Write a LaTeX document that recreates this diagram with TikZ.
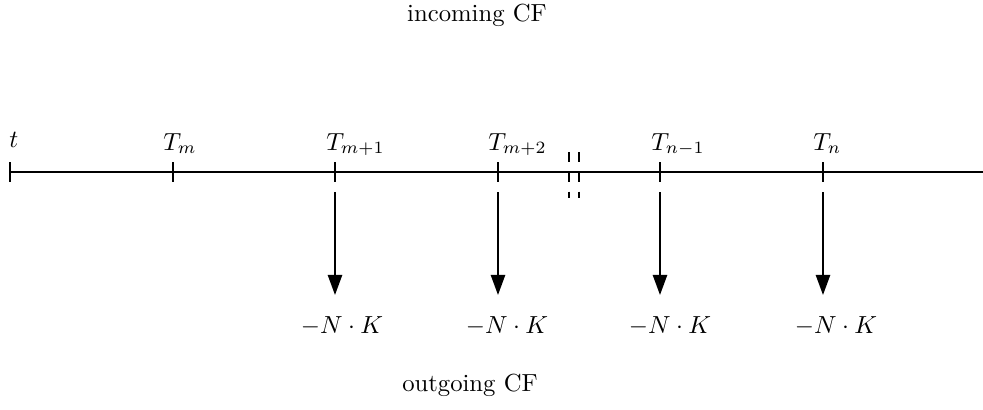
\documentclass[tikz,border=0pt]{standalone}
\usetikzlibrary{arrows.meta}
\begin{document}
\begin{tikzpicture}[x=0.405pt,y=-0.405pt,
  axis/.style={line width=0.8pt},
  tickmark/.style={line width=0.8pt},
  cfarrow/.style={line width=0.8pt,-{Triangle[length=8.2pt,width=5.8pt]}},
  brk/.style={line width=0.6pt,dash pattern=on 4pt off 4pt},
  tlbl/.style={inner sep=0pt,anchor=base west},
  cflbl/.style={inner sep=0pt,anchor=base},
  headlbl/.style={inner sep=0pt,anchor=base}]
\useasboundingbox (0,0) rectangle (983,409);
% axis
\coordinate (a0) at (10,172);
\coordinate (aend) at (983,172);
\draw[axis] (a0) -- (aend);
% ticks
\foreach \n/\x in {t0/10,t1/173,t2/335,t3/498,t4/660,t5/823}{
  \coordinate (\n top) at (\x,162);
  \coordinate (\n bot) at (\x,182);
  \draw[tickmark] (\n top) -- (\n bot);
}
% time labels
\node[tlbl] (lt) at (9,147) {$t$};
\node[tlbl] (lm) at (163,150) {$T_m$};
\node[tlbl] (lm1) at (326,150) {$T_{m+1}$};
\node[tlbl] (lm2) at (488,150) {$T_{m+2}$};
\node[tlbl] (ln1) at (651,150) {$T_{n-1}$};
\node[tlbl] (ln) at (813,150) {$T_n$};
% break marks
\coordinate (b1a) at (569,152); \coordinate (b1b) at (569,198);
\coordinate (b2a) at (579,152); \coordinate (b2b) at (579,198);
\draw[brk] (b1a) -- (b1b);
\draw[brk] (b2a) -- (b2b);
% cash flow arrows
\foreach \n/\x in {c2/335,c3/498,c4/660,c5/823}{
  \coordinate (\n s) at (\x,192);
  \coordinate (\n e) at (\x,295);
  \draw[cfarrow] (\n s) -- (\n e);
}
% amounts
\node[cflbl] (k2) at (342,333) {$-N\cdot K$};
\node[cflbl] (k3) at (507,333) {$-N\cdot K$};
\node[cflbl] (k4) at (670,333) {$-N\cdot K$};
\node[cflbl] (k5) at (836,333) {$-N\cdot K$};
% headings
\node[headlbl] (inc) at (477,21) {incoming CF};
\node[headlbl] (out) at (470,391) {outgoing CF};
\end{tikzpicture}
\end{document}
